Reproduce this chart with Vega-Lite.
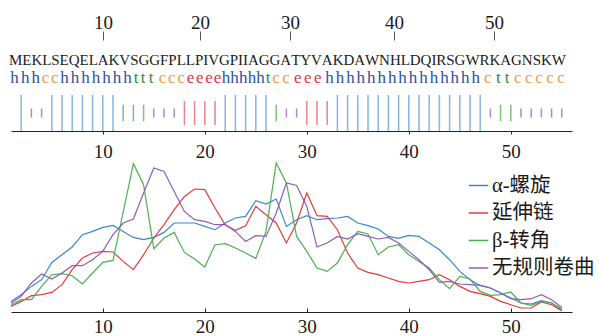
{
  "$schema": "https://vega.github.io/schema/vega-lite/v6.json",
  "padding": {"left": 8, "top": 13, "right": 0, "bottom": 0},
  "bounds": "flush",
  "spacing": 7,
  "config": {"view": {"stroke": null}, "font": "Times New Roman, Liberation Serif, DejaVu Serif, serif"},
  "resolve": {"scale": {"color": "independent", "x": "independent"}},
  "datasets": {
    "res": [
      {"i":1,"aa":"M","ss":"h","em":444.5,"sx":375},{"i":2,"aa":"E","ss":"h","em":1194.5,"sx":1084},{"i":3,"aa":"K","ss":"h","em":1861,"sx":1787},
      {"i":4,"aa":"L","ss":"c","em":2527.5,"sx":2450},{"i":5,"aa":"S","ss":"c","em":3111,"sx":3066},{"i":6,"aa":"E","ss":"h","em":3694.5,"sx":3715},
      {"i":7,"aa":"Q","ss":"h","em":4361,"sx":4418},{"i":8,"aa":"E","ss":"h","em":5027.5,"sx":5120},{"i":9,"aa":"L","ss":"h","em":5638.5,"sx":5823},
      {"i":10,"aa":"A","ss":"h","em":6305,"sx":6526},{"i":11,"aa":"K","ss":"h","em":7027,"sx":7229},{"i":12,"aa":"V","ss":"h","em":7749,"sx":7925},
      {"i":13,"aa":"S","ss":"t","em":8388,"sx":8501},{"i":14,"aa":"G","ss":"t","em":9027,"sx":8969},{"i":15,"aa":"G","ss":"t","em":9749,"sx":9505},
      {"i":16,"aa":"F","ss":"c","em":10388,"sx":10268},{"i":17,"aa":"P","ss":"c","em":10944,"sx":10897},{"i":18,"aa":"L","ss":"c","em":11527.5,"sx":11533},
      {"i":19,"aa":"L","ss":"e","em":12138.5,"sx":12155},{"i":20,"aa":"P","ss":"e","em":12722,"sx":12771},{"i":21,"aa":"I","ss":"e","em":13166.5,"sx":13387},
      {"i":22,"aa":"V","ss":"e","em":13694,"sx":13956},{"i":23,"aa":"G","ss":"h","em":14416,"sx":14525},{"i":24,"aa":"P","ss":"h","em":15055,"sx":15100},
      {"i":25,"aa":"I","ss":"h","em":15499.5,"sx":15680},{"i":26,"aa":"I","ss":"h","em":15832.5,"sx":16258},{"i":27,"aa":"A","ss":"h","em":16360,"sx":16834},
      {"i":28,"aa":"G","ss":"t","em":17082,"sx":17336},{"i":29,"aa":"G","ss":"c","em":17804,"sx":17871},{"i":30,"aa":"A","ss":"c","em":18526,"sx":18541},
      {"i":31,"aa":"T","ss":"e","em":19192.5,"sx":19324},{"i":32,"aa":"Y","ss":"e","em":19859,"sx":19993},{"i":33,"aa":"V","ss":"e","em":20581,"sx":20663},
      {"i":34,"aa":"A","ss":"h","em":21303,"sx":21452},{"i":35,"aa":"K","ss":"h","em":22025,"sx":22155},{"i":36,"aa":"D","ss":"h","em":22747,"sx":22851},
      {"i":37,"aa":"A","ss":"h","em":23469,"sx":23548},{"i":38,"aa":"W","ss":"h","em":24302,"sx":24250},{"i":39,"aa":"N","ss":"h","em":25135,"sx":24946},
      {"i":40,"aa":"H","ss":"h","em":25857,"sx":25649},{"i":41,"aa":"L","ss":"h","em":26523.5,"sx":26345},{"i":42,"aa":"D","ss":"h","em":27190,"sx":27041},
      {"i":43,"aa":"Q","ss":"h","em":27912,"sx":27744},{"i":44,"aa":"I","ss":"h","em":28439.5,"sx":28440},{"i":45,"aa":"R","ss":"h","em":28939.5,"sx":29143},
      {"i":46,"aa":"S","ss":"h","em":29551,"sx":29839},{"i":47,"aa":"G","ss":"h","em":30190,"sx":30542},{"i":48,"aa":"W","ss":"h","em":31023,"sx":31238},
      {"i":49,"aa":"R","ss":"c","em":31828.5,"sx":32041},{"i":50,"aa":"K","ss":"t","em":32523,"sx":32751},{"i":51,"aa":"A","ss":"t","em":33245,"sx":33333},
      {"i":52,"aa":"G","ss":"c","em":33967,"sx":34049},{"i":53,"aa":"N","ss":"c","em":34689,"sx":34786},{"i":54,"aa":"S","ss":"c","em":35328,"sx":35475},
      {"i":55,"aa":"K","ss":"c","em":35967,"sx":36212},{"i":56,"aa":"W","ss":"c","em":36800,"sx":36948}
    ],
    "bars": [
      {"r":2,"ss":"h"},{"r":3,"ss":"c"},{"r":4,"ss":"c"},{"r":5,"ss":"h"},{"r":6,"ss":"h"},{"r":7,"ss":"h"},{"r":8,"ss":"h"},
      {"r":9,"ss":"h"},{"r":10,"ss":"h"},{"r":11,"ss":"h"},{"r":12,"ss":"t"},{"r":13,"ss":"t"},{"r":14,"ss":"t"},
      {"r":15,"ss":"c"},{"r":16,"ss":"c"},{"r":17,"ss":"c"},{"r":18,"ss":"e"},{"r":19,"ss":"e"},{"r":20,"ss":"e"},{"r":21,"ss":"e"},
      {"r":22,"ss":"h"},{"r":23,"ss":"h"},{"r":24,"ss":"h"},{"r":25,"ss":"h"},{"r":26,"ss":"h"},{"r":27,"ss":"t"},
      {"r":28,"ss":"c"},{"r":29,"ss":"c"},{"r":30,"ss":"e"},{"r":31,"ss":"e"},{"r":32,"ss":"e"},
      {"r":33,"ss":"h"},{"r":34,"ss":"h"},{"r":35,"ss":"h"},{"r":36,"ss":"h"},{"r":37,"ss":"h"},{"r":38,"ss":"h"},{"r":39,"ss":"h"},
      {"r":40,"ss":"h"},{"r":41,"ss":"h"},{"r":42,"ss":"h"},{"r":43,"ss":"h"},{"r":44,"ss":"h"},{"r":45,"ss":"h"},{"r":46,"ss":"h"},{"r":47,"ss":"h"},
      {"r":48,"ss":"c"},{"r":49,"ss":"t"},{"r":50,"ss":"t"},{"r":51,"ss":"c"},{"r":52,"ss":"c"},{"r":53,"ss":"c"},{"r":54,"ss":"c"},{"r":55,"ss":"c"}
    ],
    "lines": [
      {"r":1,"α-螺旋":10.6,"延伸链":5.6,"β-转角":7.3,"无规则卷曲":9.0},
      {"r":2,"α-螺旋":17.3,"延伸链":10.6,"β-转角":12.3,"无规则卷曲":15.6},
      {"r":3,"α-螺旋":25.6,"延伸链":16.3,"β-转角":12.3,"无规则卷曲":29.0},
      {"r":4,"α-螺旋":32.3,"延伸链":17.3,"β-转角":25.6,"无规则卷曲":38.0},
      {"r":5,"α-螺旋":49.6,"延伸链":19.6,"β-转角":37.3,"无规则卷曲":33.0},
      {"r":6,"α-螺旋":57.3,"延伸链":27.3,"β-转角":38.3,"无规则卷曲":39.0},
      {"r":7,"α-螺旋":65.0,"延伸链":42.3,"β-转角":36.3,"无规则卷曲":46.3},
      {"r":8,"α-螺旋":77.3,"延伸链":54.0,"β-转角":28.0,"无规则卷曲":46.3},
      {"r":9,"α-螺旋":80.6,"延伸链":59.0,"β-转角":39.0,"无规则卷曲":52.3},
      {"r":10,"α-螺旋":84.6,"延伸链":60.6,"β-转角":49.6,"无规则卷曲":60.6},
      {"r":11,"α-螺旋":86.6,"延伸链":60.0,"β-转角":51.6,"无规则卷曲":77.3},
      {"r":12,"α-螺旋":80.6,"延伸链":50.6,"β-转角":100.0,"无规则卷曲":89.0},
      {"r":13,"α-螺旋":74.6,"延伸链":42.3,"β-转角":148.3,"无规则卷曲":93.0},
      {"r":14,"α-螺旋":72.3,"延伸链":57.3,"β-转角":127.3,"无规则卷曲":119.0},
      {"r":15,"α-螺旋":74.6,"延伸链":74.0,"β-转角":63.3,"无规则卷曲":144.0},
      {"r":16,"α-螺旋":79.6,"延伸链":87.3,"β-转角":74.0,"无规则卷曲":140.6},
      {"r":17,"α-螺旋":89.0,"延伸链":102.3,"β-转角":79.6,"无规则卷曲":120.6},
      {"r":18,"α-螺旋":89.0,"延伸链":115.6,"β-转角":59.6,"无规则卷曲":100.6},
      {"r":19,"α-螺旋":89.0,"延伸链":123.0,"β-转角":53.0,"无规则卷曲":92.3},
      {"r":20,"α-螺旋":85.6,"延伸链":122.3,"β-转角":45.0,"无规则卷曲":90.6},
      {"r":21,"α-螺旋":82.3,"延伸链":104.0,"β-转角":67.3,"无规则卷曲":87.3},
      {"r":22,"α-螺旋":89.0,"延伸链":87.3,"β-转角":68.3,"无规则卷曲":87.3},
      {"r":23,"α-螺旋":94.0,"延伸链":81.6,"β-转角":64.0,"无规则卷曲":80.6},
      {"r":24,"α-螺旋":95.6,"延伸链":86.3,"β-转角":59.0,"无规则卷曲":70.6},
      {"r":25,"α-螺旋":111.3,"延伸链":105.6,"β-转角":53.6,"无规则卷曲":76.3},
      {"r":26,"α-螺旋":108.0,"延伸链":97.3,"β-转角":80.6,"无规则卷曲":75.6},
      {"r":27,"α-螺旋":113.0,"延伸链":89.0,"β-转角":149.0,"无规则卷曲":99.0},
      {"r":28,"α-螺旋":85.6,"延伸链":69.0,"β-转角":129.0,"无规则卷曲":129.0},
      {"r":29,"α-螺旋":92.3,"延伸链":89.0,"β-转角":75.6,"无规则卷曲":126.6},
      {"r":30,"α-螺旋":96.3,"延伸链":119.0,"β-转角":60.6,"无规则卷曲":105.6},
      {"r":31,"α-螺旋":92.3,"延伸链":96.3,"β-转角":44.0,"无规则卷曲":65.0},
      {"r":32,"α-螺旋":93.3,"延伸链":95.6,"β-转角":40.6,"无规则卷曲":69.0},
      {"r":33,"α-螺旋":94.0,"延伸链":82.3,"β-转角":49.0,"无规则卷曲":75.6},
      {"r":34,"α-螺旋":95.6,"延伸链":59.0,"β-转角":67.3,"无规则卷曲":73.0},
      {"r":35,"α-螺旋":89.0,"延伸链":44.0,"β-转角":80.6,"无规则卷曲":78.3},
      {"r":36,"α-螺旋":86.3,"延伸链":39.6,"β-转角":78.0,"无规则卷曲":75.6},
      {"r":37,"α-螺旋":83.0,"延伸链":37.3,"β-转角":57.3,"无规则卷曲":73.0},
      {"r":38,"α-螺旋":75.6,"延伸链":34.0,"β-转角":65.0,"无规则卷曲":74.6},
      {"r":39,"α-螺旋":73.6,"延伸链":30.6,"β-转角":67.3,"无规则卷曲":69.0},
      {"r":40,"α-螺旋":76.6,"延伸链":29.0,"β-转角":57.3,"无规则卷曲":60.6},
      {"r":41,"α-螺旋":75.6,"延伸链":30.6,"β-转角":50.6,"无规则卷曲":52.3},
      {"r":42,"α-螺旋":69.0,"延伸链":32.3,"β-转角":44.0,"无规则卷曲":42.3},
      {"r":43,"α-螺旋":62.3,"延伸链":37.3,"β-转角":32.3,"无规则卷曲":29.6},
      {"r":44,"α-螺旋":52.3,"延伸链":32.3,"β-转角":23.3,"无规则卷曲":30.6},
      {"r":45,"α-螺旋":40.6,"延伸链":25.6,"β-转角":35.6,"无规则卷曲":28.0},
      {"r":46,"α-螺旋":32.3,"延伸链":20.6,"β-转角":33.0,"无规则卷曲":27.3},
      {"r":47,"α-螺旋":26.6,"延伸链":18.3,"β-转角":20.6,"无规则卷曲":26.6},
      {"r":48,"α-螺旋":24.0,"延伸链":15.6,"β-转角":16.6,"无规则卷曲":24.0},
      {"r":49,"α-螺旋":19.0,"延伸链":10.6,"β-转角":17.3,"无规则卷曲":19.0},
      {"r":50,"α-螺旋":14.0,"延伸链":7.3,"β-转角":20.0,"无规则卷曲":13.3},
      {"r":51,"α-螺旋":9.0,"延伸链":4.0,"β-转角":9.0,"无规则卷曲":12.3},
      {"r":52,"α-螺旋":8.0,"延伸链":4.0,"β-转角":6.6,"无规则卷曲":13.3},
      {"r":53,"α-螺旋":11.3,"延伸链":10.0,"β-转角":10.6,"无规则卷曲":17.3},
      {"r":54,"α-螺旋":9.0,"延伸链":7.3,"β-转角":9.0,"无规则卷曲":12.3},
      {"r":55,"α-螺旋":2.3,"延伸链":1.3,"β-转角":3.0,"无规则卷曲":4.6}
    ]
  },
  "vconcat": [
    {
      "width": 561,
      "height": 48,
      "data": {"name": "res"},
      "layer": [
        {
          "mark": {"type": "text", "font": "Times New Roman, Liberation Serif, DejaVu Serif, serif", "fontSize": 15, "baseline": "alphabetic", "align": "center", "color": "#1a1a1a"},
          "encoding": {
            "x": {
              "field": "em", "type": "quantitative",
              "scale": {"domain": [134, 37684], "nice": false, "zero": false},
              "axis": {
                "orient": "top", "title": null, "grid": false, "domain": false,
                "values": [6292, 12784, 18808, 25770, 32463],
                "labelExpr": "datum.value < 9000 ? '10' : datum.value < 15000 ? '20' : datum.value < 22000 ? '30' : datum.value < 29000 ? '40' : '50'",
                "tickSize": 9, "tickColor": "#555555", "tickWidth": 1,
                "labelFont": "Times New Roman, Liberation Serif, DejaVu Serif, serif", "labelFontSize": 19, "labelColor": "#1a1a1a", "labelPadding": -1
              }
            },
            "y": {"datum": "seq", "type": "nominal", "scale": {"type": "point", "domain": ["seq", "ss"], "padding": 0.811, "align": 0.84}, "axis": null},
            "text": {"field": "aa"}
          }
        },
        {
          "mark": {"type": "text", "font": "Times New Roman, Liberation Serif, DejaVu Serif, serif", "fontSize": 17, "baseline": "alphabetic", "align": "center"},
          "encoding": {
            "x": {"field": "sx", "type": "quantitative"},
            "y": {"datum": "ss", "type": "nominal"},
            "text": {"field": "ss"},
            "color": {"field": "ss", "type": "nominal", "scale": {"domain": ["h", "c", "t", "e"], "range": ["#2d4f9e", "#f39c3c", "#2f8a3f", "#e5323e"]}, "legend": null}
          }
        }
      ]
    },
    {
      "width": 561,
      "height": 36,
      "data": {"name": "bars"},
      "mark": {"type": "tick", "orient": "vertical", "thickness": 1.5, "opacity": 0.8},
      "encoding": {
        "x": {
          "field": "r", "type": "quantitative",
          "scale": {"domain": [1, 56], "nice": false, "zero": false},
          "axis": {
            "title": null, "grid": false, "values": [10, 20, 30, 40, 50],
            "domainColor": "#222222", "domainWidth": 1, "tickSize": 3, "tickColor": "#222222",
            "labelFont": "Times New Roman, Liberation Serif, DejaVu Serif, serif", "labelFontSize": 19, "labelColor": "#1a1a1a", "labelPadding": 8
          }
        },
        "color": {"field": "ss", "type": "nominal", "scale": {"domain": ["h", "e", "t", "c"], "range": ["#6aa3d6", "#e8646e", "#58b558", "#9a6cc4"]}, "legend": null},
        "size": {"field": "ss", "type": "nominal", "scale": {"type": "ordinal", "domain": ["h", "e", "t", "c"], "range": [36, 24, 16.5, 9]}, "legend": null}
      }
    },
    {
      "width": 561,
      "height": 174,
      "data": {"name": "lines"},
      "transform": [{"fold": ["α-螺旋", "延伸链", "β-转角", "无规则卷曲"], "as": ["s", "v"]}],
      "mark": {"type": "line", "strokeWidth": 1.2},
      "encoding": {
        "x": {
          "field": "r", "type": "quantitative",
          "scale": {"domain": [1, 56], "nice": false, "zero": false},
          "axis": {
            "title": null, "grid": false, "values": [10, 20, 30, 40, 50],
            "domainColor": "#222222", "domainWidth": 1, "tickSize": -4, "tickColor": "#222222",
            "labelFont": "Times New Roman, Liberation Serif, DejaVu Serif, serif", "labelFontSize": 19, "labelColor": "#1a1a1a", "labelPadding": 9
          }
        },
        "y": {"field": "v", "type": "quantitative", "scale": {"domain": [0, 174], "nice": false, "zero": true}, "axis": null},
        "color": {
          "field": "s", "type": "nominal",
          "scale": {"domain": ["α-螺旋", "延伸链", "β-转角", "无规则卷曲"], "range": ["#3a87d4", "#e83a3a", "#4caf50", "#8e5cb8"]},
          "legend": {
            "title": null, "orient": "none", "legendX": 457, "legendY": 37,
            "symbolType": "stroke", "symbolStrokeWidth": 1.5, "symbolSize": 380,
            "labelFont": "Times New Roman, Liberation Serif, Noto Sans CJK SC, serif", "labelFontSize": 20.5, "labelColor": "#1a1a1a",
            "labelOffset": 3, "rowPadding": 6.5, "labelLimit": 300
          }
        }
      }
    }
  ]
}
